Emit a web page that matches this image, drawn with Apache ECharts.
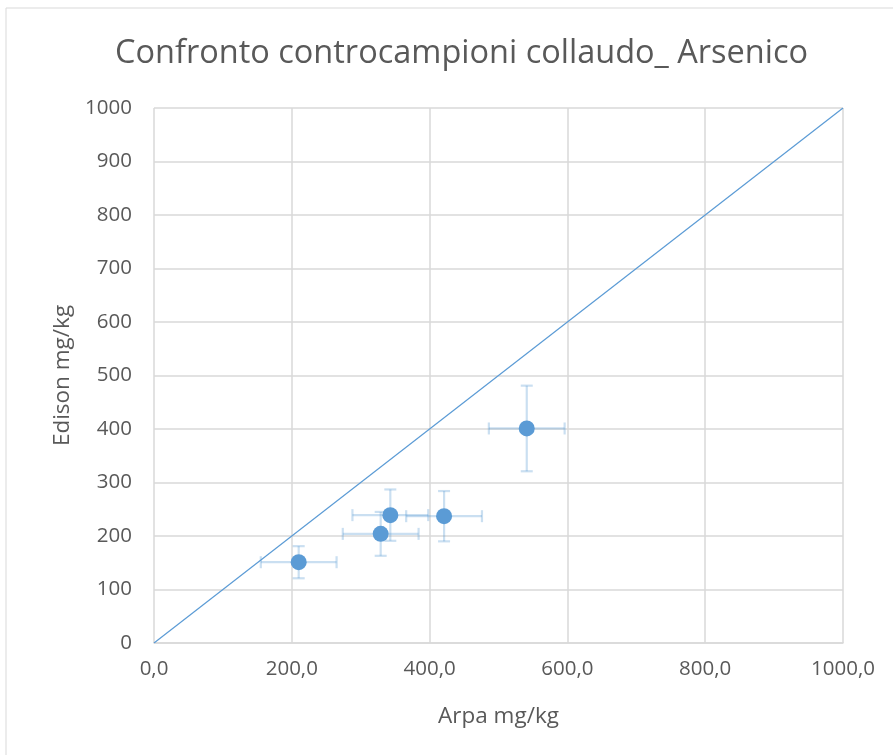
<!DOCTYPE html>
<html>
<head>
<meta charset="utf-8">
<script src="https://cdn.jsdelivr.net/npm/echarts@6/dist/echarts.min.js"></script>
<style>
html, body { margin: 0; padding: 0; background: #fff; }
#main { width: 893px; height: 755px; }
</style>
</head>
<body>
<div id="main"></div>
<script>
// dati
var arpa = [210, 329, 343, 421, 541];
var edison = [151, 204, 239, 237, 401];
var xErr = [55, 55, 55, 55, 55];
var yErr = [30, 41, 48, 47, 80];
var diagX = [0, 1000];
var diagY = [0, 1000];

var chart = echarts.init(document.getElementById('main'));

var points = arpa.map(function (x, i) { return [x, edison[i]]; });
var bars = arpa.map(function (x, i) { return [x, edison[i], xErr[i], yErr[i]]; });
var diag = diagX.map(function (x, i) { return [x, diagY[i]]; });

var fontFam = '"Open Sans", sans-serif';
var gray = '#595959';

function renderErr(params, api) {
    var x = api.value(0), y = api.value(1), ex = api.value(2), ey = api.value(3);
    var l = api.coord([x - ex, y]), r = api.coord([x + ex, y]);
    var t = api.coord([x, y + ey]), b = api.coord([x, y - ey]);
    var c = 6;
    var st = { stroke: 'rgba(91,155,213,0.32)', lineWidth: 2.2 };
    return {
        type: 'group',
        children: [
            { type: 'line', shape: { x1: l[0], y1: l[1], x2: r[0], y2: r[1] }, style: st },
            { type: 'line', shape: { x1: l[0], y1: l[1] - c, x2: l[0], y2: l[1] + c }, style: st },
            { type: 'line', shape: { x1: r[0], y1: r[1] - c, x2: r[0], y2: r[1] + c }, style: st },
            { type: 'line', shape: { x1: t[0], y1: t[1], x2: b[0], y2: b[1] }, style: st },
            { type: 'line', shape: { x1: t[0] - c, y1: t[1], x2: t[0] + c, y2: t[1] }, style: st },
            { type: 'line', shape: { x1: b[0] - c, y1: b[1], x2: b[0] + c, y2: b[1] }, style: st }
        ]
    };
}

var option = {
    backgroundColor: '#fff',
    animation: false,
    title: {
        text: 'Confronto controcampioni collaudo_ Arsenico',
        left: 110,
        top: 32,
        textStyle: { fontFamily: fontFam, fontSize: 32.5, fontWeight: 'normal', color: gray }
    },
    graphic: [{
        type: 'rect',
        shape: { x: 6, y: 8, width: 900, height: 760 },
        style: { fill: 'none', stroke: '#d9d9d9', lineWidth: 1 },
        silent: true
    }],
    grid: { left: 154, right: 50, top: 108, bottom: 112 },
    xAxis: {
        type: 'value',
        min: 0, max: 1000, interval: 200,
        name: 'Arpa mg/kg',
        nameLocation: 'middle',
        nameGap: 62,
        nameTextStyle: { fontFamily: fontFam, fontSize: 22.5, color: gray },
        axisLine: { show: true, lineStyle: { color: '#d9d9d9', width: 1.5 } },
        axisTick: { show: false },
        splitLine: { show: true, lineStyle: { color: '#d9d9d9', width: 1.5 } },
        axisLabel: {
            fontFamily: fontFam, fontSize: 20.5, color: gray, margin: 16,
            formatter: function (v) { return v.toFixed(1).replace('.', ','); }
        }
    },
    yAxis: {
        type: 'value',
        min: 0, max: 1000, interval: 100,
        name: 'Edison mg/kg',
        nameLocation: 'middle',
        nameGap: 80,
        nameTextStyle: { fontFamily: fontFam, fontSize: 22.5, color: gray },
        axisLine: { show: false },
        axisTick: { show: false },
        splitLine: { show: true, lineStyle: { color: '#d9d9d9', width: 1.5 } },
        axisLabel: {
            fontFamily: fontFam, fontSize: 20.5, color: gray, margin: 22,
            formatter: function (v) { return String(v); }
        }
    },
    series: [
        {
            type: 'line',
            data: diag,
            symbol: 'none',
            lineStyle: { color: '#5b9bd5', width: 1.2 },
            z: 2
        },
        {
            type: 'custom',
            renderItem: renderErr,
            data: bars,
            encode: { x: 0, y: 1 },
            z: 3
        },
        {
            type: 'scatter',
            data: points,
            symbol: 'circle',
            symbolSize: 16,
            itemStyle: { color: '#5b9bd5', opacity: 1 },
            z: 4
        }
    ]
};

chart.setOption(option);
window.addEventListener('resize', function () {
    chart.resize();
});
</script>
</body>
</html>
